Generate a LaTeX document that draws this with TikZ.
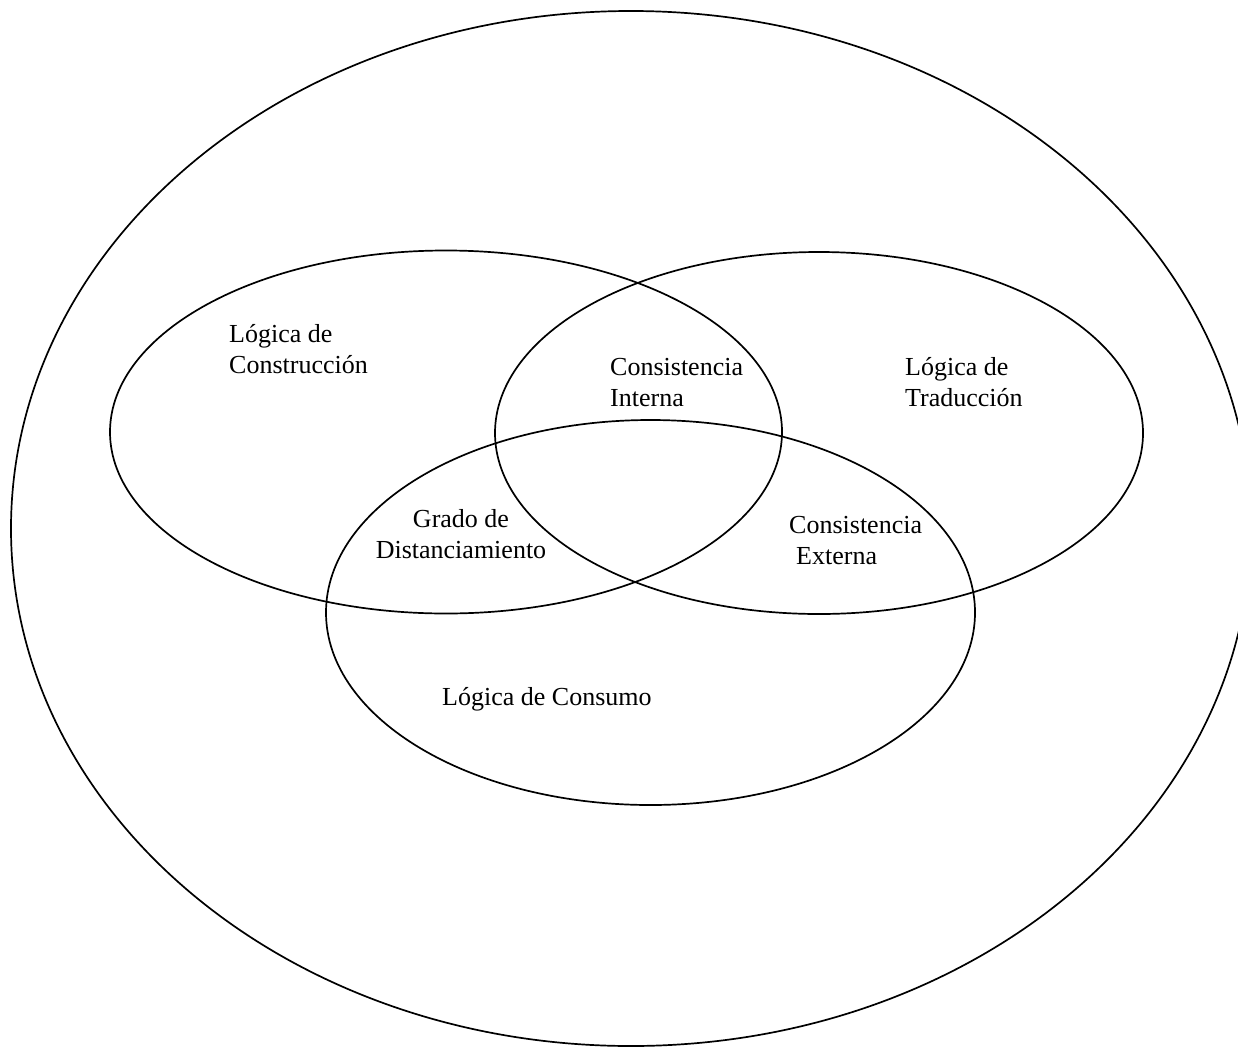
\documentclass[tikz,border=0pt]{standalone}
\usepackage{fontspec}
\setmainfont{Liberation Serif}
\usetikzlibrary{shapes.geometric}
\tikzset{
  ring/.style={draw=black, line width=1.7pt, ellipse, inner sep=0pt, fill=none},
  lbl/.style={inner sep=0pt, font=\fontsize{26pt}{31.5pt}\selectfont, align=left},
}
\begin{document}
\begin{tikzpicture}[x=1pt,y=-1pt]
\clip (0,0) rectangle (1238,1052);
\useasboundingbox (0,0) rectangle (1238,1052);
% outer ellipse
\node[ring, minimum width=1240pt, minimum height=1035pt] (outer) at (631,528.5) {};
% three overlapping ellipses
\node[ring, minimum width=672pt, minimum height=363pt] (construccion) at (446,432) {};
\node[ring, minimum width=648pt, minimum height=362pt] (traduccion) at (819,433) {};
\node[ring, minimum width=649pt, minimum height=385pt] (consumo) at (650.5,612.5) {};
% labels (base = baseline of the last line)
\node[lbl, anchor=base west] (tC) at (229,373.5) {Lógica de\\Construcción};
\node[lbl, anchor=base west] (tCI) at (610,406.5) {Consistencia\\Interna};
\node[lbl, anchor=base west] (tT) at (905,406.5) {Lógica de\\Traducción};
\node[lbl, align=center, anchor=base] (tGD) at (461,558.5) {Grado de\\Distanciamiento};
\node[lbl, anchor=base west] (tCE) at (789,564.5) {Consistencia\\\hspace*{7pt}Externa};
\node[lbl, anchor=base west] (tLC) at (442,705) {Lógica de Consumo};
\end{tikzpicture}
\end{document}
